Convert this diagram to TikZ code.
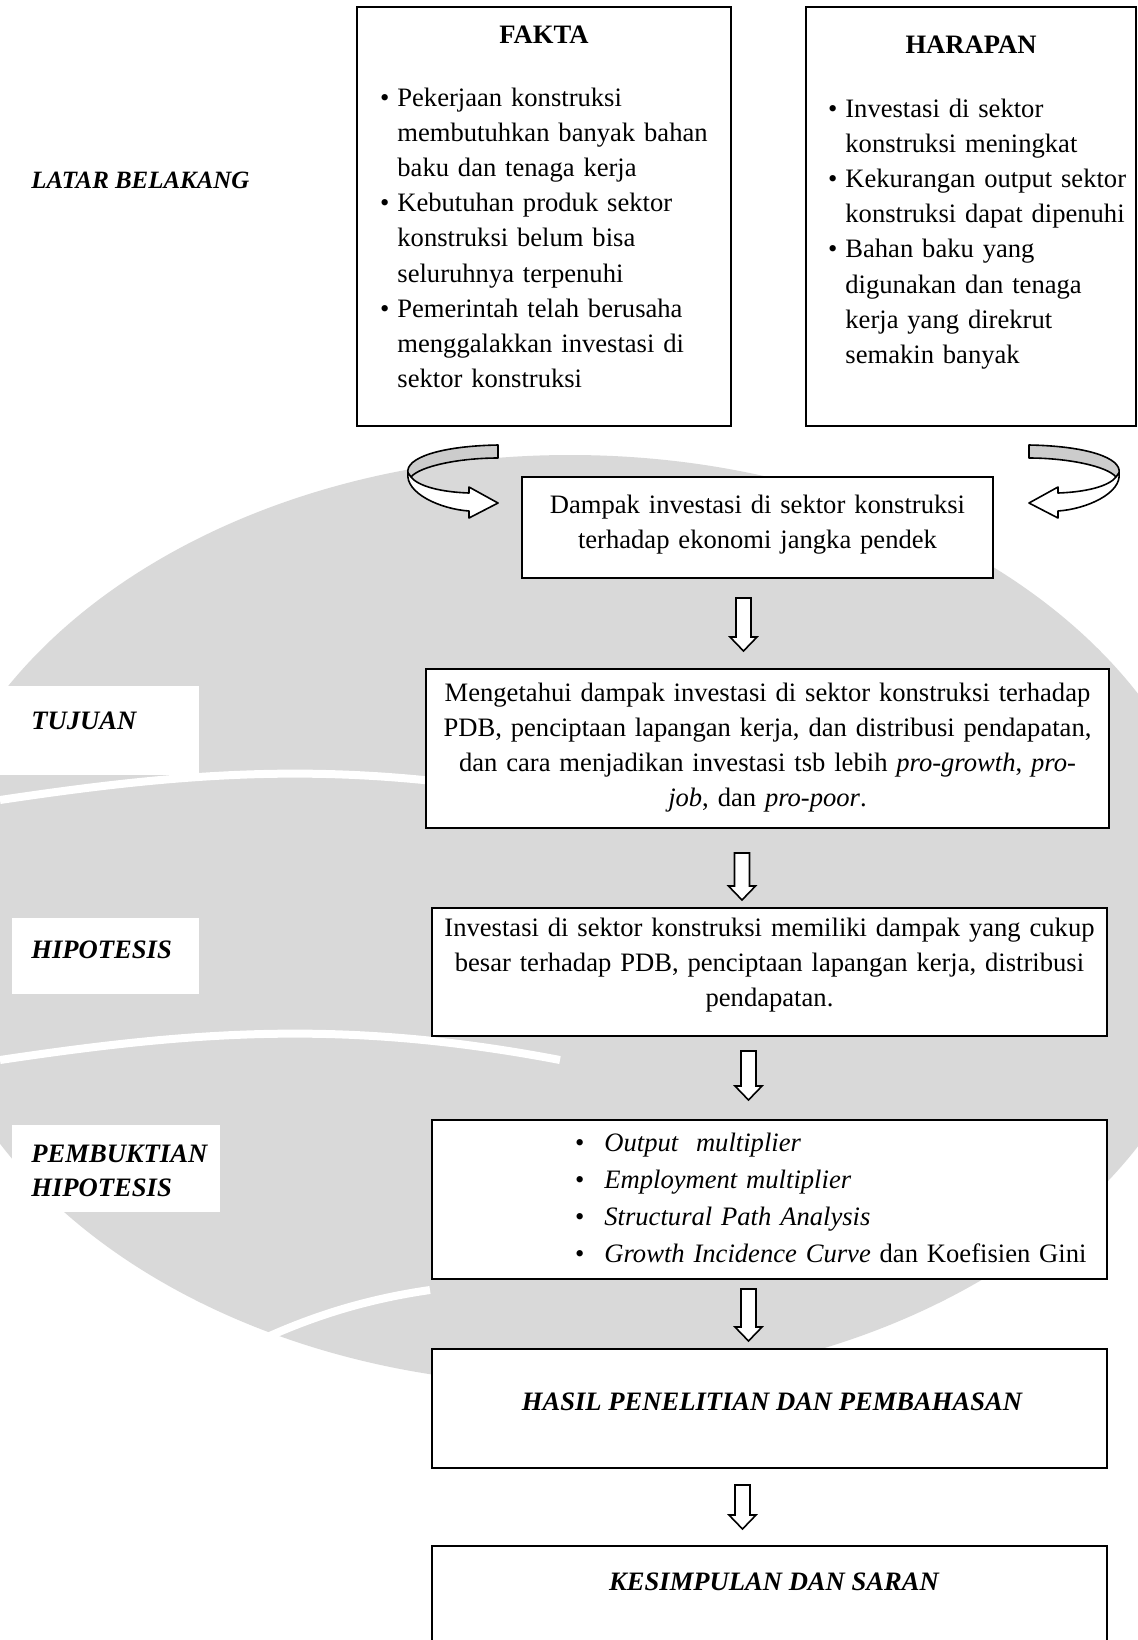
\documentclass[tikz,border=0pt]{standalone}
\usepackage{fontspec}
\setmainfont{Liberation Serif}
\usetikzlibrary{fit}
\newcommand\bul{\leavevmode\llap{\textbullet\hspace{4pt}}}
\newcommand\bulb{\leavevmode\llap{\upshape\textbullet\hspace{10pt}}}
\newcommand\blockdown[3]{\draw[blk] (#1-7.5,#2) -- (#1+7.5,#2) -- (#1+7.5,#3-14) -- (#1+13.5,#3-14) -- (#1,#3) -- (#1-13.5,#3-14) -- (#1-7.5,#3-14) -- cycle;}
\begin{document}
\begin{tikzpicture}[x=0.5pt,y=-0.5pt,
  box/.style={draw, line width=1pt, fill=white, inner sep=0pt},
  body/.style={font=\fontsize{13.3}{17.6}\selectfont, inner sep=0pt},
  title/.style={font=\fontsize{13.3}{16}\selectfont\bfseries, inner sep=0pt},
  lbl/.style={font=\fontsize{13.3}{18}\selectfont\bfseries\itshape, inner sep=0pt},
  blk/.style={draw, fill=white, line width=0.8pt, line join=miter},
  ribbon/.style={draw, line width=0.8pt, line join=round},
  wm/.style={fill=black!15},
  wmline/.style={draw=white, line width=4pt}]
\useasboundingbox (0,0) rectangle (1137,1640);
\fill[white] (0,0) rectangle (1137,1640);

% faint watermark (approximation)
\fill[wm] (570,920) ellipse [x radius=650, y radius=465];
\draw[wmline] (0,800) .. controls (200,770) and (350,760) .. (560,800);
\draw[wmline] (0,1060) .. controls (200,1030) and (350,1020) .. (560,1060);
\draw[wmline] (240,1350) .. controls (300,1320) and (360,1300) .. (430,1290);
\fill[white] (0,686) rectangle (199,775);
\fill[white] (12,918) rectangle (199,994);
\fill[white] (12,1125) rectangle (220,1212);

% boxes
\node[box, fit={(357,7) (731,426)}] (fakta) {};
\node[box, fit={(806,7) (1136,426)}] (harapan) {};
\node[box, fit={(522,477) (993,578)}] (dampak) {};
\node[box, fit={(426,669) (1109,828)}] (tujuan) {};
\node[box, fit={(432,908) (1107,1036)}] (hipo) {};
\node[box, fit={(432,1120) (1107,1279)}] (bukti) {};
\node[box, fit={(432,1349) (1107,1468)}] (hasil) {};
\node[box, fit={(432,1546) (1107,1650)}] (simpul) {};

% side labels
\node[lbl, font=\fontsize{12.45}{18}\selectfont\bfseries\itshape, anchor=base west] (lLatar) at (31,188) {LATAR BELAKANG};
\node[lbl, anchor=base west] (lTujuan) at (31,729) {TUJUAN};
\node[lbl, anchor=base west] (lHipo) at (31,958) {HIPOTESIS};
\node[lbl, anchor=base west, text width=120pt, align=left] (lBukti) at (31,1162) {PEMBUKTIAN\\[-1pt]HIPOTESIS};

% FAKTA
\node[title, anchor=base] (tFakta) at (544,43) {FAKTA};
\node[body, anchor=base west, text width=170pt, align=left] (bFakta) at (397,106) {%
\bul Pekerjaan konstruksi\\
membutuhkan banyak bahan\\
baku dan tenaga kerja\\
\bul Kebutuhan produk sektor\\
konstruksi belum bisa\\
seluruhnya terpenuhi\\
\bul Pemerintah telah berusaha\\
menggalakkan investasi di\\
sektor konstruksi};

% HARAPAN
\node[title, anchor=base] (tHarapan) at (971,53) {HARAPAN};
\node[body, anchor=base west, text width=150pt, align=left] (bHarapan) at (845,117) {%
\bul Investasi di sektor\\
konstruksi meningkat\\
\bul Kekurangan output sektor\\
konstruksi dapat dipenuhi\\
\bul Bahan baku yang\\
digunakan dan tenaga\\
kerja yang direkrut\\
semakin banyak};

% Dampak
\node[body, anchor=base, text width=230pt, align=center] (tDampak) at (757.5,513) {%
Dampak investasi di sektor konstruksi\\
terhadap ekonomi jangka pendek};

% Tujuan
\node[body, anchor=base, text width=335pt, align=center] (tTujuan) at (767.5,701) {%
Mengetahui dampak investasi di sektor konstruksi terhadap\\
PDB, penciptaan lapangan kerja, dan distribusi pendapatan,\\
dan cara menjadikan investasi tsb lebih \textit{pro-growth}, \textit{pro-}\\
\textit{job}, dan \textit{pro-poor}.};

% Hipotesis
\node[body, anchor=base, text width=335pt, align=center] (tHipo) at (769.5,936) {%
Investasi di sektor konstruksi memiliki dampak yang cukup\\
besar terhadap PDB, penciptaan lapangan kerja, distribusi\\
pendapatan.};

% Pembuktian
\node[body, font=\fontsize{13.3}{18.5}\selectfont, anchor=base west, text width=260pt, align=left] (tBukti) at (604,1151) {%
\bulb\textit{Output~ multiplier}\\
\bulb\textit{Employment multiplier}\\
\bulb\textit{Structural Path Analysis}\\
\bulb\textit{Growth Incidence Curve} dan Koefisien Gini};

% Hasil, Kesimpulan
\node[lbl, anchor=base] (tHasil) at (772,1410) {HASIL PENELITIAN DAN PEMBAHASAN};
\node[lbl, anchor=base] (tSimpul) at (774,1590) {KESIMPULAN DAN SARAN};

% curved ribbon arrows
\begin{scope}
\draw[ribbon, fill=black!20] (498,445) .. controls (440,446) and (405,458) .. (408,473) -- (411,477) .. controls (420,466) and (460,458) .. (498,458) -- cycle;
\draw[ribbon, fill=white] (408,473) .. controls (405,493) and (440,509) .. (469,511) -- (469,518) -- (498,503) -- (469,487) -- (469,493) .. controls (440,492) and (418,486) .. (411,477) -- cycle;
\end{scope}
\begin{scope}[shift={(1527,0)}, xscale=-1]
\draw[ribbon, fill=black!20] (498,445) .. controls (440,446) and (405,458) .. (408,473) -- (411,477) .. controls (420,466) and (460,458) .. (498,458) -- cycle;
\draw[ribbon, fill=white] (408,473) .. controls (405,493) and (440,509) .. (469,511) -- (469,518) -- (498,503) -- (469,487) -- (469,493) .. controls (440,492) and (418,486) .. (411,477) -- cycle;
\end{scope}

% block down arrows
\blockdown{743.5}{598}{651}
\blockdown{742}{853}{900}
\blockdown{748.5}{1051}{1100}
\blockdown{748.5}{1289}{1341}
\blockdown{742.5}{1485}{1529}
\end{tikzpicture}
\end{document}
